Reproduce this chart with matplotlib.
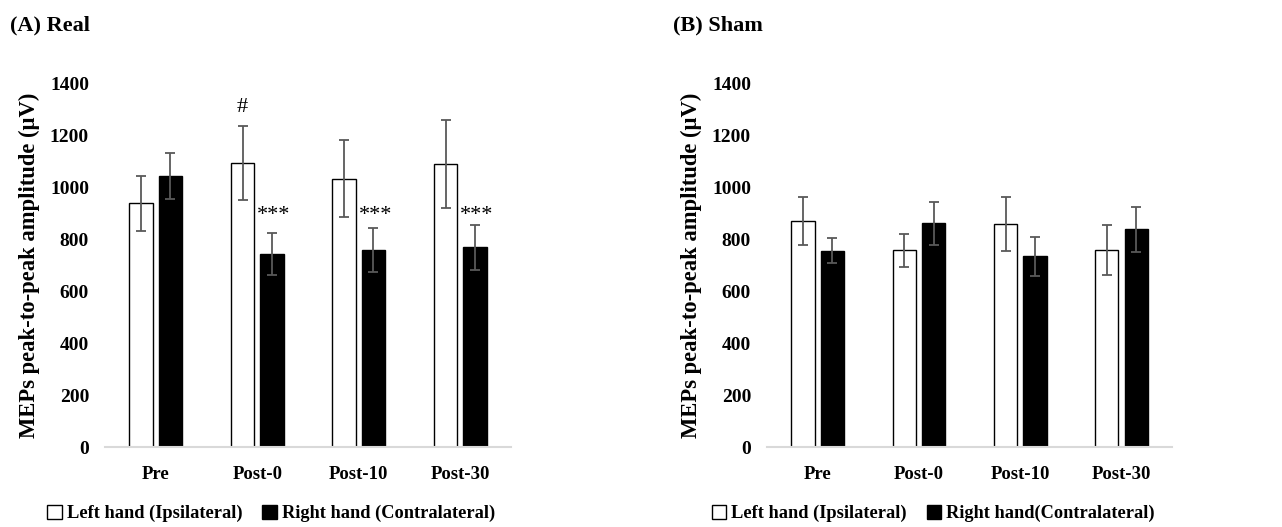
import matplotlib
matplotlib.use("Agg")
import matplotlib.pyplot as plt
import numpy as np
from matplotlib.patches import Patch

categories = ["Pre", "Post-0", "Post-10", "Post-30"]

real_left = [937, 1092, 1031, 1088]
real_left_err = [105, 143, 148, 170]
real_right = [1043, 743, 758, 768]
real_right_err = [89, 82, 85, 86]

sham_left = [870, 756, 857, 756]
sham_left_err = [92, 65, 103, 96]
sham_right = [755, 861, 734, 837]
sham_right_err = [48, 83, 75, 87]

yticks = [0, 200, 400, 600, 800, 1000, 1200, 1400]

plt.rcParams['font.family'] = ['Liberation Serif', 'DejaVu Serif']

fig = plt.figure(figsize=(12.82, 5.27), dpi=100)
ax1 = fig.add_axes([0.0819, 0.1518, 0.3167, 0.6907])
ax2 = fig.add_axes([0.5983, 0.1518, 0.3160, 0.6907])

x = np.arange(len(categories))
bw = 0.23
gap = 0.06
err_kw = dict(ecolor='#595959', elinewidth=1.3, capsize=3.5, capthick=1.3)


def draw(ax, left, lerr, right, rerr):
    ax.bar(x - (bw + gap) / 2, left, bw, color='white', edgecolor='black',
           linewidth=1.0, yerr=lerr, error_kw=err_kw, zorder=2)
    ax.bar(x + (bw + gap) / 2, right, bw, color='black', edgecolor='black',
           linewidth=1.0, yerr=rerr, error_kw=err_kw, zorder=2)
    ax.set_xlim(-0.5, len(categories) - 0.5)
    ax.set_ylim(0, 1400)
    ax.set_yticks(yticks)
    ax.set_yticklabels([str(v) for v in yticks], fontsize=14, fontweight='bold')
    ax.set_xticks(x)
    ax.set_xticklabels(categories, fontsize=13.5, fontweight='bold')
    ax.tick_params(axis='both', length=0)
    ax.tick_params(axis='y', pad=11.5)
    ax.tick_params(axis='x', pad=14)
    for s in ['top', 'right', 'left']:
        ax.spines[s].set_visible(False)
    ax.spines['bottom'].set_color('#d9d9d9')
    ax.spines['bottom'].set_linewidth(1.5)
    ax.set_ylabel('MEPs peak-to-peak amplitude (µV)', fontsize=16.3,
                  fontweight='bold')
    ax.yaxis.set_label_coords(-0.161, 0.5)


draw(ax1, real_left, real_left_err, real_right, real_right_err)
draw(ax2, sham_left, sham_left_err, sham_right, sham_right_err)

# significance marks
ax1.text(x[1] - (bw + gap) / 2, 1270, '#', ha='center', va='bottom', fontsize=16)
for i in [1, 2, 3]:
    ax1.text(x[i] + (bw + gap) / 2 + 0.02, 855, '***', ha='center', va='bottom', fontsize=16)

fig.text(0.008, 0.952, '(A) Real', fontsize=16, fontweight='bold', ha='left', va='center')
fig.text(0.525, 0.952, '(B) Sham', fontsize=16, fontweight='bold', ha='left', va='center')

h_left = Patch(facecolor='white', edgecolor='black', linewidth=1.0)
h_right = Patch(facecolor='black', edgecolor='black', linewidth=1.0)
leg_kw = dict(ncol=2, frameon=False, loc='center', handlelength=0.8, handleheight=0.8,
              handletextpad=0.25, columnspacing=1.1, borderaxespad=0, borderpad=0,
              prop={'size': 13.2, 'weight': 'bold'})
fig.legend([h_left, h_right], ['Left hand (Ipsilateral)', 'Right hand (Contralateral)'],
           bbox_to_anchor=(271 / 1282, 0.026), **leg_kw)
fig.legend([h_left, h_right], ['Left hand (Ipsilateral)', 'Right hand(Contralateral)'],
           bbox_to_anchor=(933 / 1282, 0.026), **leg_kw)

fig.savefig('out.png', dpi=100)
